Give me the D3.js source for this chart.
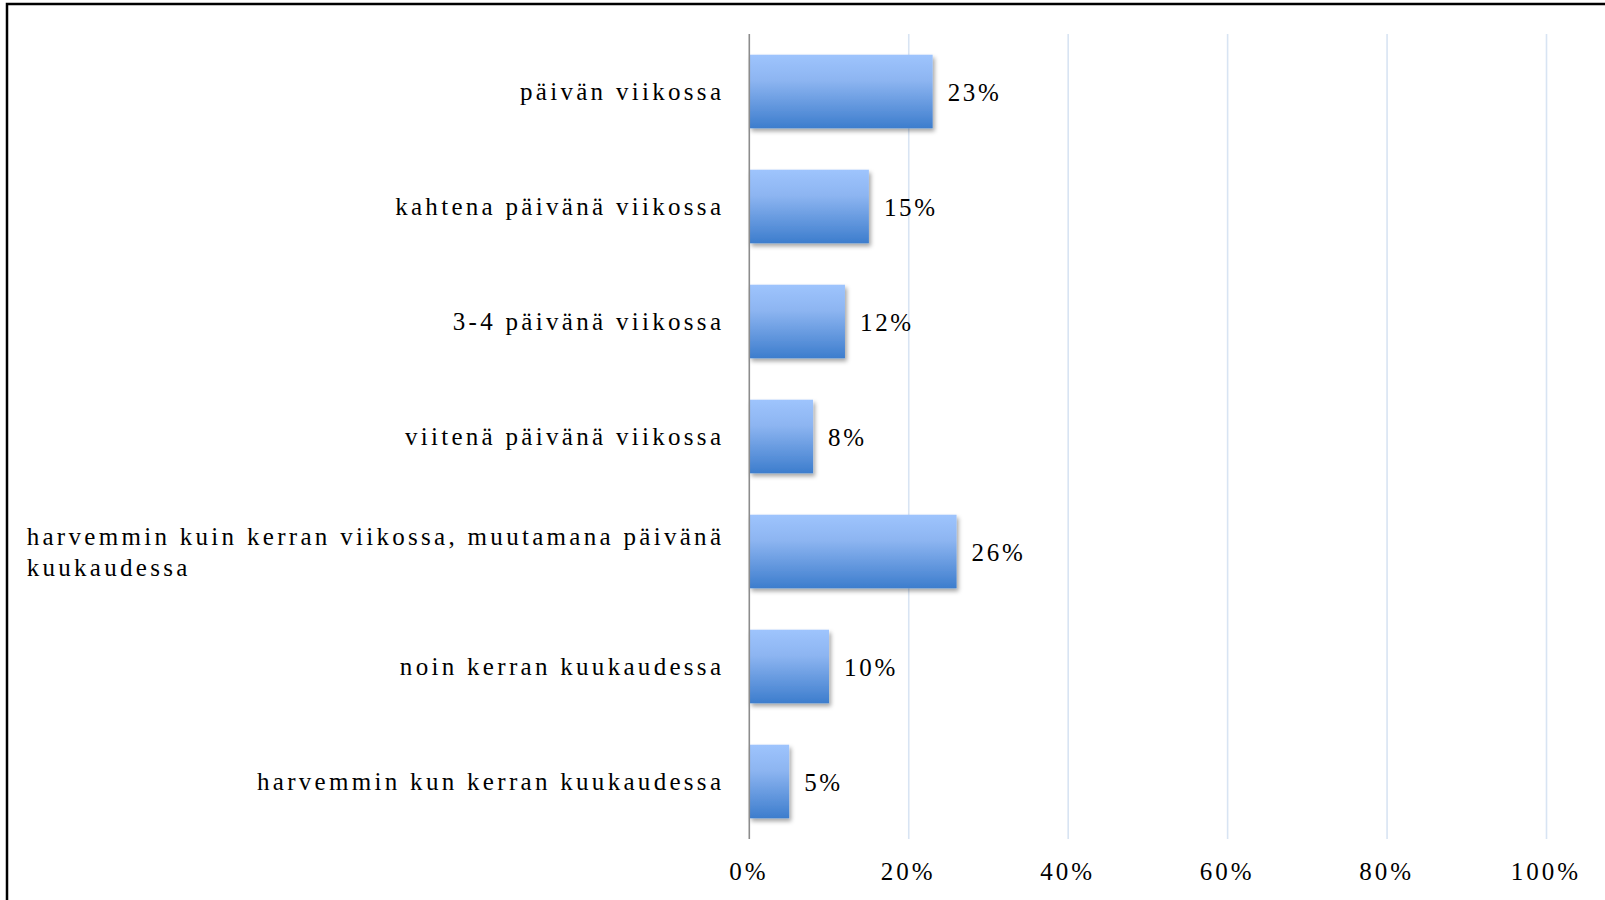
<!DOCTYPE html>
<html>
<head>
<meta charset="utf-8">
<script src="https://cdn.jsdelivr.net/npm/d3@7"></script>
<style>
  body { margin: 0; background: #fff; }
  text { font-family: "Liberation Serif", "Times New Roman", serif; fill: #000; }
</style>
</head>
<body>
<svg id="chart"></svg>
<script>
// categories top to bottom, values are shares
var categories = [
  "päivän viikossa",
  "kahtena päivänä viikossa",
  "3-4 päivänä viikossa",
  "viitenä päivänä viikossa",
  "harvemmin kuin kerran viikossa, muutamana päivänä kuukaudessa",
  "noin kerran kuukaudessa",
  "harvemmin kun kerran kuukaudessa"
];
var values = [0.23, 0.15, 0.12, 0.08, 0.26, 0.10, 0.05];
var tickValues = [0, 0.2, 0.4, 0.6, 0.8, 1.0];

var W = 1605, H = 900;
var margin = {top: 34, right: 58.5, bottom: 61, left: 749.3};

var svg = d3.select("#chart")
  .attr("width", W)
  .attr("height", H);

svg.append("rect")
  .attr("width", W).attr("height", H)
  .attr("fill", "#fff");

// outer frame (runs off right and bottom edge)
svg.append("rect")
  .attr("x", 7).attr("y", 4)
  .attr("width", W + 20).attr("height", H + 20)
  .attr("fill", "none")
  .attr("stroke", "#000")
  .attr("stroke-width", 2.5);

var defs = svg.append("defs");
var grad = defs.append("linearGradient")
  .attr("id", "barGrad")
  .attr("x1", 0).attr("y1", 0).attr("x2", 0).attr("y2", 1);
grad.append("stop").attr("offset", "0%").attr("stop-color", "#9ec4fd");
grad.append("stop").attr("offset", "35%").attr("stop-color", "#8db5f1");
grad.append("stop").attr("offset", "100%").attr("stop-color", "#3d7dcd");

var shadow = defs.append("filter")
  .attr("id", "shadow")
  .attr("x", "-20%").attr("y", "-20%")
  .attr("width", "140%").attr("height", "150%");
shadow.append("feDropShadow")
  .attr("dx", 2).attr("dy", 3)
  .attr("stdDeviation", 2.2)
  .attr("flood-color", "#000")
  .attr("flood-opacity", 0.35);

var x = d3.scaleLinear()
  .domain([0, 1])
  .range([margin.left, W - margin.right]);

var y = d3.scaleBand()
  .domain(categories)
  .range([margin.top, H - margin.bottom])
  .paddingInner(0.36)
  .paddingOuter(0.18);

// gridlines
svg.append("g")
  .selectAll("line")
  .data(tickValues.filter(function(d) { return d > 0; }))
  .enter().append("line")
    .attr("x1", function(d) { return x(d); })
    .attr("x2", function(d) { return x(d); })
    .attr("y1", margin.top)
    .attr("y2", H - margin.bottom)
    .attr("stroke", "#d8e4f3")
    .attr("stroke-width", 1.6);

// bars
svg.append("g")
  .selectAll("rect")
  .data(values)
  .enter().append("rect")
    .attr("x", x(0))
    .attr("y", function(d, i) { return y(categories[i]); })
    .attr("width", function(d) { return x(d) - x(0); })
    .attr("height", y.bandwidth())
    .attr("fill", "url(#barGrad)")
    .attr("filter", "url(#shadow)");

// value axis line
svg.append("line")
  .attr("x1", x(0)).attr("x2", x(0))
  .attr("y1", margin.top).attr("y2", H - margin.bottom)
  .attr("stroke", "#8c8c8c")
  .attr("stroke-width", 1.6);

// bottom tick labels
var xAxis = d3.axisBottom(x)
  .tickValues(tickValues)
  .tickFormat(d3.format(".0%"))
  .tickSize(0)
  .tickPadding(0);

var gx = svg.append("g")
  .attr("transform", "translate(0," + (H - margin.bottom) + ")")
  .call(xAxis);
gx.select(".domain").remove();
gx.selectAll("text")
  .attr("y", 41)
  .attr("dy", 0)
  .attr("dx", -1)
  .style("font-family", "'Liberation Serif', serif")
  .style("font-size", "25px")
  .style("letter-spacing", "3px");

// value labels
svg.append("g")
  .selectAll("text")
  .data(values)
  .enter().append("text")
    .attr("x", function(d) { return x(d) + 15; })
    .attr("y", function(d, i) { return y(categories[i]) + y.bandwidth() / 2; })
    .attr("dy", "0.38em")
    .style("font-size", "25px")
    .style("letter-spacing", "2.7px")
    .text(function(d) { return Math.round(d * 100) + "%"; });

// category labels, wrapped like the original
var labelRight = x(0) - 25;
var maxLabelWidth = 715;
var lineHeight = 31;

var labels = svg.append("g")
  .selectAll("text")
  .data(categories)
  .enter().append("text")
    .style("font-size", "25px")
    .style("letter-spacing", "3.3px");

labels.each(function(d) {
  var t = d3.select(this);
  var words = d.split(" ");
  var lines = [];
  var line = [];
  var probe = t.append("tspan");
  words.forEach(function(w) {
    line.push(w);
    probe.text(line.join(" "));
    if (probe.node().getComputedTextLength() > maxLabelWidth && line.length > 1) {
      line.pop();
      lines.push(line.join(" "));
      line = [w];
    }
  });
  lines.push(line.join(" "));
  probe.remove();

  var cy = y(d) + y.bandwidth() / 2;
  var top = cy - (lines.length - 1) * lineHeight / 2;
  if (lines.length == 1) {
    t.attr("text-anchor", "end")
      .attr("x", labelRight)
      .attr("y", top)
      .attr("dy", "0.35em")
      .text(lines[0]);
  } else {
    // block right-aligned, lines left-aligned inside it
    var widest = 0;
    lines.forEach(function(l) {
      var s = t.append("tspan").text(l);
      widest = Math.max(widest, s.node().getComputedTextLength());
      s.remove();
    });
    var left = labelRight - widest;
    lines.forEach(function(l, i) {
      t.append("tspan")
        .attr("x", left)
        .attr("y", top + i * lineHeight)
        .attr("dy", "0.35em")
        .text(l);
    });
  }
});
</script>
</body>
</html>
